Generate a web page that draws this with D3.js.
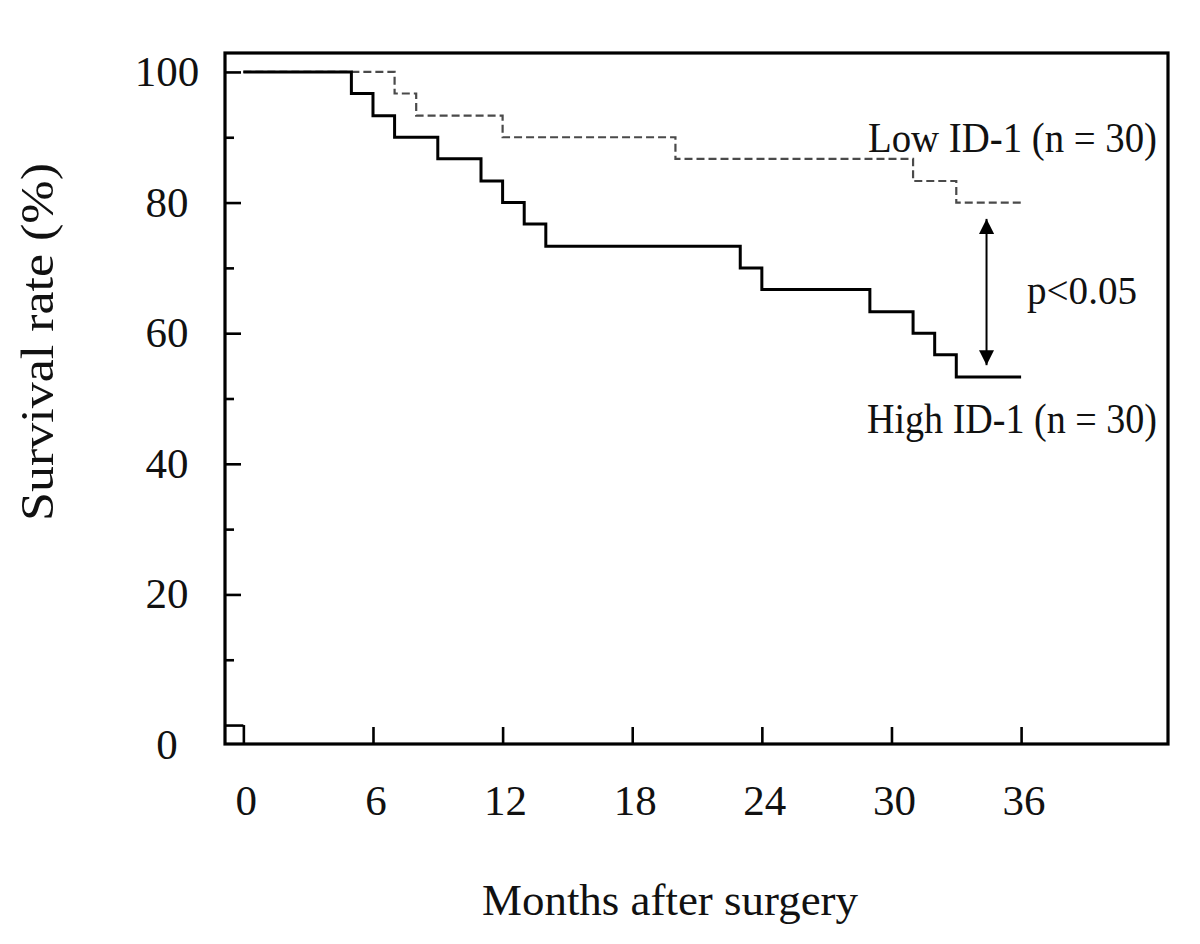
<!DOCTYPE html>
<html>
<head>
<meta charset="utf-8">
<script src="https://cdn.jsdelivr.net/npm/d3@7"></script>
<style>
  html, body { margin: 0; padding: 0; background: #fff; }
  svg { display: block; }
  text { font-family: "Liberation Serif", "Times New Roman", serif; fill: #111; }
</style>
</head>
<body>
<svg id="chart" width="1200" height="944"></svg>
<script>
// ---- data ----
const highMonths   = [0, 5, 6, 7, 9, 11, 12, 13, 14, 23, 24, 29, 31, 32, 33, 36];
const highSurvival = [100, 96.7, 93.3, 90, 86.7, 83.3, 80, 76.7, 73.3, 70, 66.7, 63.3, 60, 56.7, 53.3, 53.3];
const lowMonths    = [0, 7, 8, 12, 20, 31, 33, 36];
const lowSurvival  = [100, 96.7, 93.3, 90, 86.7, 83.3, 80, 80];
const xTicks = [0, 6, 12, 18, 24, 30, 36];
const yMinorTicks = [0, 10, 20, 30, 40, 50, 60, 70, 80, 90, 100];
const yLabels = [0, 20, 40, 60, 80, 100];
const highLabel = "High ID-1 (n = 30)";
const lowLabel = "Low ID-1 (n = 30)";
const pLabel = "p<0.05";
const arrowSpan = [77.5, 55.1];
const arrowMonth = 34.4;

const svg = d3.select("#chart");
const x = d3.scaleLinear().domain([-0.85, 42.8]).range([225, 1168]);
const y = d3.scaleLinear().domain([-2.9, 102.9]).range([744, 53]);

// frame
svg.append("rect")
  .attr("x", x.range()[0]).attr("y", y.range()[1])
  .attr("width", x.range()[1] - x.range()[0])
  .attr("height", y.range()[0] - y.range()[1])
  .attr("fill", "none").attr("stroke", "#000").attr("stroke-width", 3.2);

// y ticks (inward)
svg.append("g")
  .attr("transform", `translate(${x.range()[0]},0)`)
  .call(d3.axisLeft(y).tickValues(yMinorTicks).tickFormat("").tickSizeOuter(0)
        .tickSizeInner(0))
  .call(g => g.select(".domain").remove())
  .call(g => g.selectAll(".tick line")
     .attr("x2", d => d === 0 ? x(0) - x.range()[0] : (d % 20 === 0 ? 16 : 9))
     .attr("stroke", "#000").attr("stroke-width", 2.6));

// x ticks (inward)
svg.append("g")
  .attr("transform", `translate(0,${y.range()[0]})`)
  .call(d3.axisBottom(x).tickValues(xTicks).tickFormat("").tickSizeOuter(0).tickSizeInner(0))
  .call(g => g.select(".domain").remove())
  .call(g => g.selectAll(".tick line")
     .attr("y2", d => d === 0 ? y(0) - y.range()[0] : -17)
     .attr("stroke", "#000").attr("stroke-width", 2.6));

// y labels
svg.append("g").selectAll("text").data(yLabels).join("text")
  .attr("x", 167)
  .attr("y", d => d === 0 ? y(-3) + 14 : y(d) + 14)
  .attr("text-anchor", "middle")
  .attr("font-size", 43)
  .text(d => d);

// x labels
svg.append("g").selectAll("text").data(xTicks).join("text")
  .attr("x", d => x(d) + 3)
  .attr("y", 815)
  .attr("text-anchor", "middle")
  .attr("font-size", 43)
  .text(d => d);

// axis titles
svg.append("text")
  .attr("x", 670).attr("y", 915)
  .attr("text-anchor", "middle")
  .attr("font-size", 45)
  .attr("textLength", 376).attr("lengthAdjust", "spacingAndGlyphs")
  .text("Months after surgery");

svg.append("text")
  .attr("transform", "translate(53,342) rotate(-90)")
  .attr("text-anchor", "middle")
  .attr("font-size", 46)
  .attr("textLength", 358).attr("lengthAdjust", "spacingAndGlyphs")
  .text("Survival rate (%)");

// curves
const line = d3.line().curve(d3.curveStepAfter).x(d => x(d[0])).y(d => y(d[1]));
const lowData = lowMonths.map((m, i) => [m, lowSurvival[i]]);
const highData = highMonths.map((m, i) => [m, highSurvival[i]]);

svg.append("path").datum(lowData)
  .attr("d", line).attr("fill", "none")
  .attr("stroke", "#4a4a4a").attr("stroke-width", 2.2)
  .attr("stroke-dasharray", "8,4");

svg.append("path").datum(highData)
  .attr("d", line).attr("fill", "none")
  .attr("stroke", "#000").attr("stroke-width", 3);

// arrow
const defs = svg.append("defs");
defs.append("marker").attr("id", "ah").attr("viewBox", "0 0 10 10")
  .attr("refX", 10).attr("refY", 5)
  .attr("markerWidth", 15).attr("markerHeight", 15)
  .attr("markerUnits", "userSpaceOnUse")
  .attr("orient", "auto-start-reverse")
  .append("path").attr("d", "M0,0 L10,5 L0,10 Z").attr("fill", "#000");

svg.append("line")
  .attr("x1", x(arrowMonth)).attr("x2", x(arrowMonth))
  .attr("y1", y(arrowSpan[0])).attr("y2", y(arrowSpan[1]))
  .attr("stroke", "#000").attr("stroke-width", 2)
  .attr("marker-start", "url(#ah)").attr("marker-end", "url(#ah)");

// annotations
svg.append("text").attr("x", 868).attr("y", 152)
  .attr("font-size", 42)
  .attr("textLength", 289).attr("lengthAdjust", "spacingAndGlyphs")
  .text(lowLabel);
svg.append("text").attr("x", 867).attr("y", 433)
  .attr("font-size", 42)
  .attr("textLength", 290).attr("lengthAdjust", "spacingAndGlyphs")
  .text(highLabel);
svg.append("text").attr("x", 1027).attr("y", 304)
  .attr("font-size", 40)
  .attr("textLength", 110).attr("lengthAdjust", "spacingAndGlyphs")
  .text(pLabel);
</script>
</body>
</html>
